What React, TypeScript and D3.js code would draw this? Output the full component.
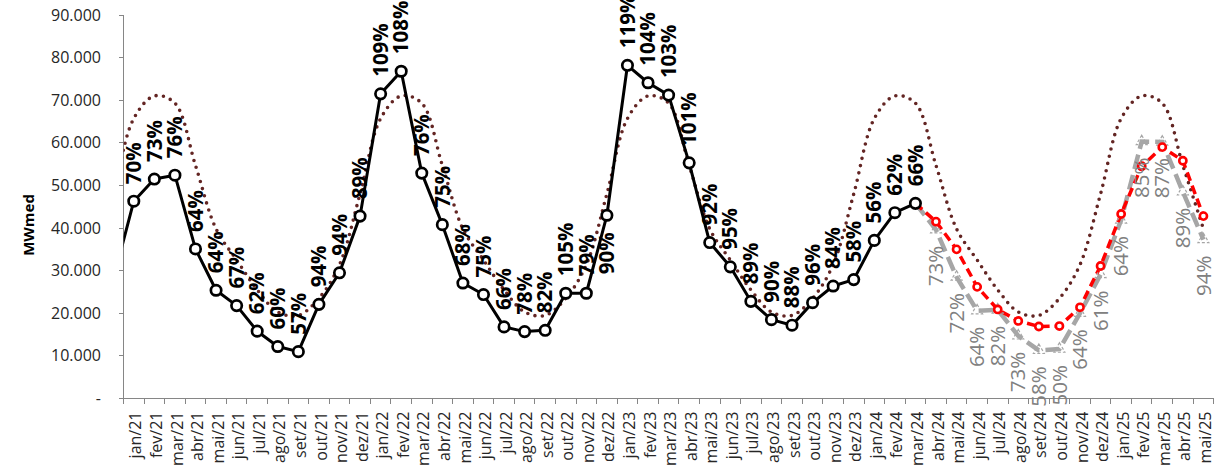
import React from "react";
import * as d3 from "d3";

// ---------- data ----------
const months = [
  "jan/21", "fev/21", "mar/21", "abr/21", "mai/21", "jun/21", "jul/21", "ago/21", "set/21", "out/21", "nov/21", "dez/21",
  "jan/22", "fev/22", "mar/22", "abr/22", "mai/22", "jun/22", "jul/22", "ago/22", "set/22", "out/22", "nov/22", "dez/22",
  "jan/23", "fev/23", "mar/23", "abr/23", "mai/23", "jun/23", "jul/23", "ago/23", "set/23", "out/23", "nov/23", "dez/23",
  "jan/24", "fev/24", "mar/24", "abr/24", "mai/24", "jun/24", "jul/24", "ago/24", "set/24", "out/24", "nov/24", "dez/24",
  "jan/25", "fev/25", "mar/25", "abr/25", "mai/25",
];

// value of dez/20 (only the entering segment is visible at the left edge)
const actualLead = 27900;
// verified energy, jan/21 .. mar/24
const actualValues = [
  46300, 51500, 52400, 35100, 25400, 21800, 15800, 12200, 11000, 22100, 29500, 42800,
  71500, 76800, 52900, 40800, 27100, 24400, 16800, 15700, 16000, 24700, 24700, 43000,
  78200, 74100, 71200, 55300, 36600, 30900, 22800, 18500, 17200, 22500, 26400, 27900,
  37100, 43600, 45800,
];
const actualPct = [
  70, 73, 76, 64, 64, 67, 62, 60, 57, 94, 94, 89,
  109, 108, 76, 75, 68, 75, 66, 78, 82, 105, 79, 90,
  119, 104, 103, 101, 92, 95, 89, 90, 88, 96, 84, 58,
  56, 62, 66,
];
// labels drawn under their point instead of above
const actualPctBelow = ["dez/22"];

// long-term average, nov/20 .. mai/25 (nov/20 and dez/20 lie left of the axis)
const mltLeadCount = 2;
const mltValues = [
  31400, 48000,
  65700, 71000, 69300, 54700, 39800, 32500, 25500, 20300, 19500, 23500, 31400, 48000,
  65700, 71000, 69300, 54700, 39800, 32500, 25500, 20300, 19500, 23500, 31400, 48000,
  65700, 71000, 69300, 54700, 39800, 32500, 25500, 20300, 19500, 23500, 31400, 48000,
  65700, 71000, 69300, 54700, 39800, 32500, 25500, 20300, 19500, 23500, 31400, 48000,
  65700, 71000, 69300, 54700, 39800,
];

// forecasts, mar/24 .. mai/25
const forecastRed = [
  45800, 41500, 35000, 26200, 20900, 18200, 16900, 17000, 21400, 31100, 43300, 54500, 59000, 55800, 42800,
];
const forecastGray = [
  45800, 39600, 28500, 20600, 20800, 14700, 11300, 11600, 20000, 29100, 41900, 60300, 60200, 48500, 37300,
];
// abr/24 .. mai/25
const forecastGrayPct = [73, 72, 64, 82, 73, 58, 50, 64, 61, 64, 85, 87, 89, 94];

const yTicks = [0, 10000, 20000, 30000, 40000, 50000, 60000, 70000, 80000, 90000];
const yTitle = "MWmed";

// ---------- chart ----------
const W = 1224;
const H = 469;
const FONT = "'Open Sans', 'Liberation Sans', sans-serif";

const fmt = d3
  .formatLocale({ decimal: ",", thousands: ".", grouping: [3], currency: ["R$", ""] })
  .format(",d");

export default function App() {
  const x = d3.scaleLinear().domain([-0.5, months.length - 0.5]).range([123.5, 1213.7]);
  const y = d3.scaleLinear().domain([0, 90000]).range([398.5, 15]);

  const forecastStart = months.indexOf("mar/24");

  type P = [number, number];
  const mltPts: P[] = mltValues.map((v, i) => [x(i - mltLeadCount), y(v)]);
  const actPts: P[] = [[x(-1), y(actualLead)], ...actualValues.map((v, i) => [x(i), y(v)] as P)];
  const redPts: P[] = forecastRed.map((v, i) => [x(forecastStart + i), y(v)]);
  const grayPts: P[] = forecastGray.map((v, i) => [x(forecastStart + i), y(v)]);

  const smooth = d3.line().curve(d3.curveCatmullRom.alpha(0.5));
  const straight = d3.line();
  const tri = d3.symbol().type(d3.symbolTriangle).size(52);

  const axisColor = "#868686";
  const x0 = x.range()[0];
  const x1 = x.range()[1];
  const yBase = y(0);

  return (
    <svg
      width={W}
      height={H}
      style={{ position: "absolute", left: 0, top: 0, display: "block", background: "#fff" }}
      fontFamily={FONT}
    >
      <defs>
        <clipPath id="plot">
          <rect x={x0} y={0} width={x1 - x0} height={yBase} />
        </clipPath>
      </defs>

      {/* axes */}
      <g stroke={axisColor} strokeWidth={1} shapeRendering="crispEdges">
        <line x1={x0} x2={x0} y1={y(90000)} y2={yBase + 5} />
        <line x1={x0} x2={x1} y1={yBase} y2={yBase} />
        {yTicks.map((t) => (
          <line key={"yt" + t} x1={x0 - 5} x2={x0} y1={y(t)} y2={y(t)} />
        ))}
        {d3.range(months.length + 1).map((i) => (
          <line key={"xt" + i} x1={x(i - 0.5)} x2={x(i - 0.5)} y1={yBase} y2={yBase + 5} />
        ))}
      </g>

      {/* y tick labels */}
      <g fontSize={16} fill="#262626" textAnchor="end">
        {yTicks.map((t) => (
          <text key={"yl" + t} x={101} y={y(t)} dy="0.35em">
            {t === 0 ? "-" : fmt(t)}
          </text>
        ))}
      </g>
      <text
        transform={`translate(29,225) rotate(-90)`}
        textAnchor="middle"
        dy="0.35em"
        fontSize={15}
        fontWeight="bold"
        fill="#000"
      >
        {yTitle}
      </text>

      {/* x tick labels */}
      <g fontSize={16} fill="#262626" textAnchor="end">
        {months.map((m, i) => (
          <text key={"xl" + m} transform={`translate(${x(i) + 2},${yBase + 13}) rotate(-90)`} dy="0.35em">
            {m}
          </text>
        ))}
      </g>

      {/* series */}
      <g clipPath="url(#plot)" fill="none">
        <path
          d={smooth(mltPts) || ""}
          stroke="#632523"
          strokeWidth={3.6}
          strokeDasharray="0 7.4"
          strokeLinecap="round"
        />
        <path d={straight(grayPts) || ""} stroke="#A6A6A6" strokeWidth={4.5} strokeDasharray="15 6" />
        <path d={straight(redPts) || ""} stroke="#FF0000" strokeWidth={3.5} strokeDasharray="9 5" />
        <path d={straight(actPts) || ""} stroke="#000" strokeWidth={3} strokeLinejoin="round" />
      </g>

      {/* markers */}
      <g>
        {grayPts.slice(1).map((p, i) => (
          <path
            key={"gm" + i}
            d={tri() || ""}
            transform={`translate(${p[0]},${p[1]})`}
            fill="none"
            stroke="#A6A6A6"
            strokeWidth={1.2}
            strokeDasharray="3 2"
          />
        ))}
        {redPts.slice(1).map((p, i) => (
          <circle key={"rm" + i} cx={p[0]} cy={p[1]} r={3.6} fill="#fff" stroke="#FF0000" strokeWidth={2.6} />
        ))}
        {actualValues.map((v, i) => (
          <circle key={"am" + i} cx={x(i)} cy={y(v)} r={5.2} fill="#fff" stroke="#000" strokeWidth={2.7} />
        ))}
      </g>

      {/* labels: verified */}
      <g fontSize={20.5} fontWeight="bold" fill="#000">
        {actualValues.map((v, i) => {
          const below = actualPctBelow.includes(months[i]);
          const yy = below ? y(v) + 17 : y(v) - 17;
          return (
            <text
              key={"al" + i}
              transform={`translate(${x(i)},${yy}) rotate(-90)`}
              textAnchor={below ? "end" : "start"}
              dy="0.35em"
            >
              {actualPct[i] + "%"}
            </text>
          );
        })}
      </g>

      {/* labels: forecast */}
      <g fontSize={20.5} fill="#808080">
        {forecastGrayPct.map((pct, i) => {
          const p = grayPts[i + 1];
          return (
            <text
              key={"gl" + i}
              transform={`translate(${p[0]},${p[1] + 16}) rotate(-90)`}
              textAnchor="end"
              dy="0.35em"
            >
              {pct + "%"}
            </text>
          );
        })}
      </g>
    </svg>
  );
}
